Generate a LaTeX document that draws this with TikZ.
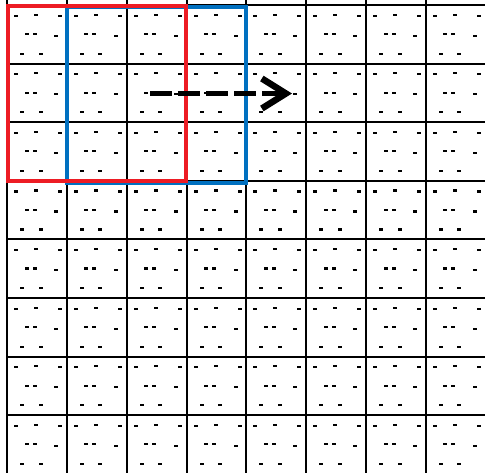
\documentclass[tikz,border=0pt]{standalone}
\usetikzlibrary{arrows.meta}
\definecolor{boxred}{RGB}{237,28,36}
\definecolor{boxblue}{RGB}{0,112,192}
\tikzset{
  gridline/.style={line width=2pt,black},
  dotmark/.style={fill=black},
  redbox/.style={line width=3.6pt,boxred},
  bluebox/.style={line width=3.6pt,boxblue},
  movearrow/.style={line width=5pt,dash pattern=on 21.5pt off 6.5pt,
    -{Straight Barb[length=24pt,width=30pt,line width=6.5pt]}}
}
\begin{document}
\begin{tikzpicture}[x=1pt,y=-1pt]
\useasboundingbox (0,0) rectangle (485,472);
\clip (0,0) rectangle (485,472);
% cell dots
\foreach \i in {0,...,7}{
  \foreach \j in {0,...,7}{
    \pgfmathsetmacro{\cx}{7+59.85*\i}
    \pgfmathsetmacro{\cy}{5+58.6*\j}
    \foreach \dx/\dy in {9/10.5,29/9.5,53/10.5,19.5/29,27.5/29,49/30.5,15/48.5,33.5/48.5}{
      \fill[dotmark] (\cx+\dx-2,\cy+\dy-1) rectangle (\cx+\dx+2,\cy+\dy+1.2);
    }
  }
}
% grid
\foreach \i in {0,...,8}{
  \draw[gridline] (7+59.85*\i,0) -- (7+59.85*\i,480);
  \draw[gridline] (7,5+58.6*\i) -- (490,5+58.6*\i);
}
% windows
\draw[bluebox] (67,7) rectangle (246,183);
\draw[redbox] (8,6) rectangle (186,181);
% arrow
\coordinate (arrowstart) at (150,93.5);
\coordinate (arrowend) at (292,93.5);
\draw[movearrow] (arrowstart) -- (arrowend);
\end{tikzpicture}
\end{document}
